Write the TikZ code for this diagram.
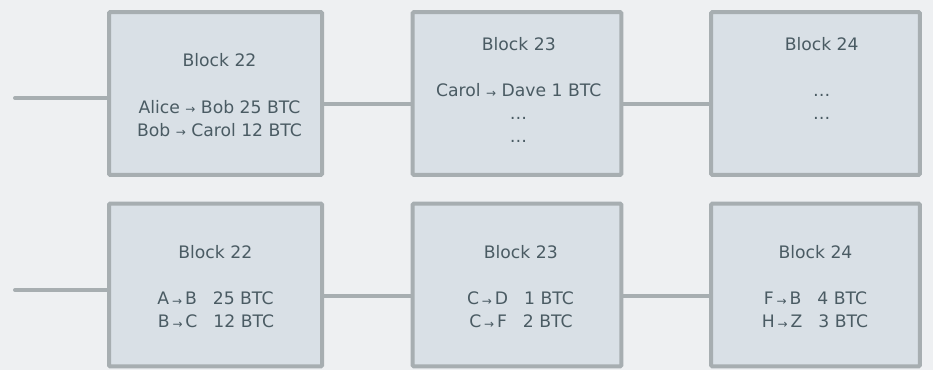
\documentclass[tikz,border=0pt]{standalone}
\usepackage{fontspec}
\usetikzlibrary{backgrounds}
\setmainfont{DejaVu Sans}
\definecolor{pagebg}{HTML}{EEF0F2}
\definecolor{boxfill}{HTML}{D9E0E6}
\definecolor{edge}{HTML}{A7AEB1}
\definecolor{ink}{HTML}{4A5B63}
% small transfer arrow used inside the transaction lines
\newcommand\txarrow{{\fontsize{9}{9}\selectfont\raisebox{-0.3pt}{→}}}
\begin{document}
\begin{tikzpicture}[x=0.75pt,y=-0.75pt,
  blk/.style={draw=edge, fill=boxfill, line width=3pt, rounded corners=0.8pt,
    inner sep=0pt, minimum height=122pt},
  wide/.style={minimum width=159.75pt},
  narrow/.style={minimum width=156.4pt},
  link/.style={draw=edge, line width=3pt, line cap=round},
  txt/.style={text=ink, font=\fontsize{12.9}{15}\selectfont, inner sep=0pt, anchor=base}]
\useasboundingbox (0,0) rectangle (933,370);

% connector heights
\coordinate (inA) at (15,98);
\coordinate (lnA) at (0,104);
\coordinate (inB) at (15,290);
\coordinate (lnB) at (0,296);

% chain with named parties
\node[blk,wide]   (a1) at (215.5,93.5) {};
\node[blk,narrow] (a2) at (517,93.5) {};
\node[blk,narrow] (a3) at (815.5,93.5) {};
% chain with letter parties
\node[blk,wide]   (b1) at (215.5,285) {};
\node[blk,narrow] (b2) at (517,285) {};
\node[blk,narrow] (b3) at (815.5,285) {};

\begin{scope}[on background layer]
  \fill[pagebg] (0,0) rectangle (933,370);
  \draw[link] (inA) -- (a1.west |- inA);
  \draw[link] (a1.east |- lnA) -- (a2.west |- lnA);
  \draw[link] (a2.east |- lnA) -- (a3.west |- lnA);
  \draw[link] (inB) -- (b1.west |- inB);
  \draw[link] (b1.east |- lnB) -- (b2.west |- lnB);
  \draw[link] (b2.east |- lnB) -- (b3.west |- lnB);
\end{scope}

% texts, top chain
\node[txt] (a1t) at (219.5,66.7) {Block 22};
\node[txt] (a1x) at (219.5,113.3) {Alice \txarrow{} Bob 25 BTC};
\node[txt] (a1y) at (219.5,136.3) {Bob \txarrow{} Carol 12 BTC};
\node[txt] (a2t) at (518.8,50.7) {Block 23};
\node[txt] (a2x) at (518.8,96.7) {Carol \txarrow{} Dave 1 BTC};
\node[txt] (a2y) at (518.5,119.7) {…};
\node[txt] (a2z) at (518.5,142.7) {…};
\node[txt] (a3t) at (821.7,50.7) {Block 24};
\node[txt] (a3x) at (821.7,96.7) {…};
\node[txt] (a3y) at (821.7,119.7) {…};

% texts, bottom chain
\node[txt] (b1t) at (215.3,259) {Block 22};
\node[txt] (b1x) at (215.5,305) {A\,\txarrow\,B\hspace{12pt}25 BTC};
\node[txt] (b1y) at (216,328) {B\,\txarrow\,C\hspace{12pt}12 BTC};
\node[txt] (b2t) at (520.8,259) {Block 23};
\node[txt] (b2x) at (520.5,305) {C\,\txarrow\,D\hspace{12pt}1 BTC};
\node[txt] (b2y) at (521,328) {C\,\txarrow\,F\hspace{12pt}2 BTC};
\node[txt] (b3t) at (815.5,259) {Block 24};
\node[txt] (b3x) at (815.5,305) {F\,\txarrow\,B\hspace{12pt}4 BTC};
\node[txt] (b3y) at (815,328) {H\,\txarrow\,Z\hspace{12pt}3 BTC};
\end{tikzpicture}
\end{document}
